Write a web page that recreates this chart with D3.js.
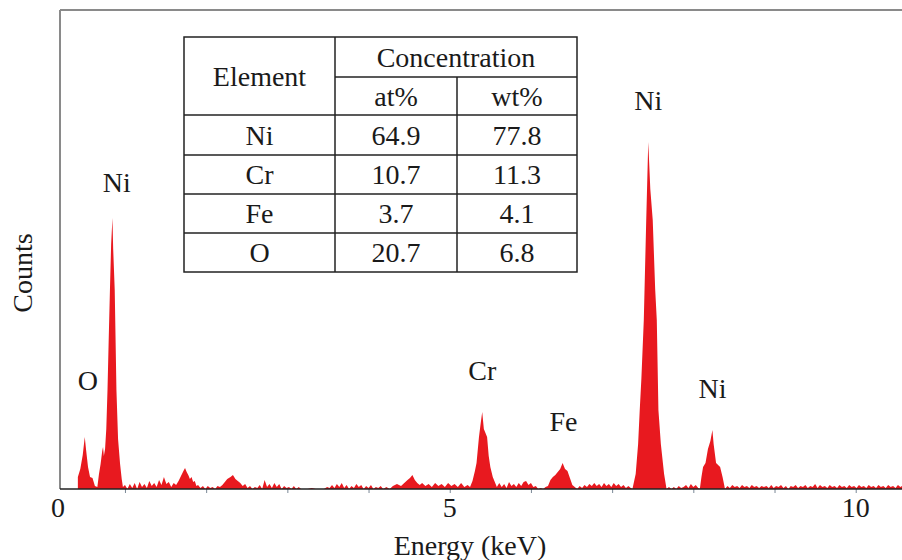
<!DOCTYPE html>
<html>
<head>
<meta charset="utf-8">
<script src="https://cdn.jsdelivr.net/npm/d3@7"></script>
<style>
  body { margin: 0; background: #fff; }
  svg text { font-family: "Liberation Serif", "DejaVu Serif", serif; fill: #1a1a1a; }
</style>
</head>
<body>
<div id="chart"></div>
<script>
// EDS spectrum, [energy keV, counts]
var spectrum = [
  [0.42,120],[0.45,200],[0.48,340],[0.505,520],[0.52,400],[0.545,220],[0.57,120],[0.60,110],[0.63,30],[0.66,20],
  [0.68,150],[0.70,250],[0.72,380],[0.73,420],[0.74,330],[0.755,400],[0.77,600],[0.785,990],[0.80,1500],[0.815,1990],
  [0.83,2450],[0.846,2710],[0.855,2400],[0.874,1990],[0.895,990],[0.915,500],[0.94,250],[0.96,100],[0.975,20],
  [1.00,40],[1.03,0],[1.06,50],[1.09,10],[1.12,60],[1.15,0],[1.18,70],[1.21,20],[1.24,50],[1.27,10],[1.30,80],
  [1.33,30],[1.36,60],[1.39,20],[1.42,90],[1.45,40],[1.48,120],[1.51,50],[1.54,70],[1.57,20],[1.60,60],[1.63,40],
  [1.66,80],[1.69,130],[1.72,180],[1.74,210],[1.76,170],[1.78,140],[1.80,100],[1.82,120],[1.84,70],[1.86,80],[1.88,30],
  [1.90,40],[1.93,10],[1.96,30],[1.99,0],[2.02,30],[2.05,10],[2.08,20],[2.11,0],[2.14,30],[2.17,20],
  [2.20,40],[2.23,70],[2.26,100],[2.30,120],[2.33,140],[2.36,100],[2.39,80],[2.42,60],[2.45,30],
  [2.48,50],[2.51,10],[2.54,30],[2.57,0],[2.60,20],[2.63,10],[2.66,40],[2.69,0],[2.72,90],[2.75,20],[2.78,50],
  [2.81,10],[2.84,60],[2.87,20],[2.90,50],[2.93,0],[2.96,30],[2.99,10],[3.02,20],[3.05,0],[3.08,30],[3.11,0],
  [3.14,20],[3.17,0],[3.25,0],[3.30,10],[3.35,0],[3.45,0],[3.49,20],
  [3.52,10],[3.55,40],[3.58,10],[3.61,50],[3.64,20],[3.67,60],[3.70,10],[3.73,40],[3.76,0],[3.79,30],[3.82,10],
  [3.85,50],[3.88,20],[3.91,40],[3.94,0],[3.97,30],[4.00,10],[4.03,40],[4.06,0],[4.09,20],[4.12,10],[4.15,30],
  [4.18,0],[4.22,20],[4.26,0],[4.30,30],[4.35,50],[4.40,30],[4.44,60],[4.48,90],[4.51,110],[4.54,140],[4.57,90],
  [4.60,60],[4.63,40],[4.66,60],[4.70,30],[4.74,50],[4.78,20],[4.82,60],[4.86,30],[4.90,50],[4.94,20],[4.98,60],
  [5.02,30],[5.06,50],[5.10,20],[5.14,60],[5.18,20],[5.22,40],
  [5.25,20],[5.28,80],[5.31,180],[5.33,260],[5.36,520],[5.38,650],[5.40,770],[5.42,600],[5.44,560],[5.46,520],
  [5.48,330],[5.50,220],[5.53,120],[5.56,60],[5.58,20],
  [5.61,60],[5.64,20],[5.67,50],[5.70,10],[5.73,70],[5.76,30],[5.79,50],[5.82,20],[5.85,60],[5.88,30],[5.91,70],
  [5.94,80],[5.97,40],[6.00,60],[6.03,20],[6.06,30],[6.09,0],[6.12,10],[6.15,0],[6.18,20],
  [6.21,30],[6.24,90],[6.27,120],[6.30,140],[6.33,170],[6.36,200],[6.39,260],[6.42,200],[6.45,180],[6.48,110],[6.51,40],
  [6.54,20],[6.57,0],[6.60,30],[6.63,10],[6.66,40],[6.69,20],[6.72,50],[6.75,30],[6.78,60],[6.81,30],[6.84,50],
  [6.87,20],[6.90,60],[6.93,30],[6.96,50],[6.99,20],[7.02,60],[7.05,30],[7.08,50],[7.11,20],[7.14,40],[7.17,10],
  [7.20,30],[7.23,10],
  [7.25,0],[7.29,150],[7.32,450],[7.34,790],[7.36,1100],[7.39,1690],[7.42,2690],[7.445,3470],[7.47,3000],[7.50,2690],
  [7.53,2000],[7.55,1690],[7.57,790],[7.60,450],[7.64,150],[7.67,0],
  [7.70,20],[7.73,0],[7.76,20],[7.79,0],[7.82,30],[7.85,10],[7.88,20],[7.91,40],[7.94,10],[7.97,50],[8.00,20],
  [8.03,40],[8.06,10],
  [8.08,0],[8.10,120],[8.12,220],[8.15,260],[8.18,400],[8.21,480],[8.235,590],[8.25,450],[8.28,260],[8.33,220],
  [8.36,120],[8.39,0],
  [8.42,30],[8.45,10],[8.48,40],[8.51,20],[8.54,30],[8.57,10],[8.60,40],[8.63,20],[8.66,30],[8.69,10],[8.72,40],
  [8.75,20],[8.78,30],[8.81,10],[8.84,30],[8.87,20],[8.90,30],[8.93,10],[8.96,40],[8.99,10],[9.02,30],[9.05,20],
  [9.08,40],[9.11,10],[9.14,30],[9.17,0],[9.20,30],[9.23,20],[9.26,40],[9.29,10],[9.32,30],[9.35,20],[9.38,40],
  [9.41,10],[9.44,30],[9.47,20],[9.50,50],[9.53,10],[9.56,40],[9.59,20],[9.62,30],[9.65,10],[9.68,40],[9.71,20],
  [9.74,30],[9.77,10],[9.80,40],[9.83,20],[9.86,30],[9.89,10],[9.92,40],[9.95,20],[9.98,30],[10.01,10],[10.04,40],
  [10.07,20],[10.10,30],[10.13,10],[10.16,40],[10.19,20],[10.22,30],[10.25,10],[10.28,40],[10.31,20],[10.34,30],
  [10.37,10],[10.40,40],[10.43,20],[10.46,30],[10.49,10],[10.52,40],[10.55,20],[10.57,30]
];

var tickLabels = [0, 5, 10];
var minorTicks = [1, 2, 3, 4, 5, 6, 7, 8, 9, 10];

var peakNames = ["O", "Ni", "Cr", "Fe", "Ni", "Ni"];
var peakEnergies = [0.52, 0.85, 5.40, 6.40, 7.445, 8.235];

var tableElements = ["Ni", "Cr", "Fe", "O"];
var atPercent = ["64.9", "10.7", "3.7", "20.7"];
var wtPercent = ["77.8", "11.3", "4.1", "6.8"];

var width = 902, height = 560;
var plotLeft = 60, plotTop = 10, plotBottom = 489;
var serif = "Liberation Serif, DejaVu Serif, serif";

var svg = d3.select("#chart").append("svg")
  .attr("width", width)
  .attr("height", height);

var x = d3.scaleLinear().domain([0.2, 10.57]).range([plotLeft, width]);
var y = d3.scaleLinear().domain([0, 4790]).range([plotBottom, plotTop]);

// spectrum
var area = d3.area()
  .x(function(d){ return x(d[0]); })
  .y0(y(0))
  .y1(function(d){ return y(d[1]); });

svg.append("path")
  .datum(spectrum)
  .attr("d", area)
  .attr("fill", "#e8191f");

// frame
svg.append("line")
  .attr("x1", plotLeft).attr("x2", width)
  .attr("y1", plotTop).attr("y2", plotTop)
  .attr("stroke", "#8a8a8a")
  .attr("stroke-width", 2);

svg.append("line")
  .attr("x1", plotLeft).attr("x2", plotLeft)
  .attr("y1", plotTop).attr("y2", plotBottom)
  .attr("stroke", "#8a8a8a")
  .attr("stroke-width", 2);

// small ticks under the baseline
var minor = svg.append("g")
  .attr("transform", "translate(0," + plotBottom + ")")
  .call(d3.axisBottom(x).tickValues(minorTicks).tickSize(4).tickFormat(""));
minor.select(".domain").remove();
minor.selectAll("line").attr("stroke", "#7a8896");

svg.append("line")
  .attr("x1", plotLeft).attr("x2", width)
  .attr("y1", plotBottom).attr("y2", plotBottom)
  .attr("stroke", "#222")
  .attr("stroke-width", 1.5);

var xAxis = svg.append("g")
  .attr("transform", "translate(0," + plotBottom + ")")
  .call(d3.axisBottom(x).tickValues(tickLabels).tickSize(0).tickPadding(8));
xAxis.select(".domain").remove();
xAxis.selectAll(".tick")
  .attr("transform", function(d){ return "translate(" + Math.max(x(d), 58) + ",0)"; });
xAxis.selectAll("text")
  .attr("font-family", serif)
  .style("font-size", "28px")
  .attr("fill", "#1a1a1a")
  .attr("dy", "0.72em");

svg.append("text")
  .attr("x", 470)
  .attr("y", 555)
  .attr("text-anchor", "middle")
  .attr("font-family", serif)
  .style("font-size", "28px")
  .text("Energy (keV)");

svg.append("text")
  .attr("transform", "translate(32,273) rotate(-90)")
  .attr("text-anchor", "middle")
  .attr("font-family", serif)
  .style("font-size", "28px")
  .text("Counts");

// peak labels
function peakTop(e){
  return d3.max(spectrum, function(d){ return Math.abs(d[0] - e) < 0.04 ? d[1] : 0; });
}

svg.selectAll(".peak")
  .data(peakNames)
  .enter()
  .append("text")
  .attr("class", "peak")
  .attr("x", function(d, i){
    if(i === 0){
      return x(peakEnergies[i]) + 2;
    }
    else if(i === 1){
      return x(peakEnergies[i]) + 4;
    }
    return x(peakEnergies[i]);
  })
  .attr("y", function(d, i){
    if(i === 0){
      return y(peakTop(peakEnergies[i])) - 47;
    }
    else if(i === 1){
      return y(peakTop(peakEnergies[i])) - 26;
    }
    return y(peakTop(peakEnergies[i])) - 32;
  })
  .attr("text-anchor", "middle")
  .attr("font-family", serif)
  .style("font-size", "28px")
  .text(function(d){ return d; });

// concentration table
var colX = [184, 335, 457, 577];
var rowY = [37, 77, 115, 155, 194, 233, 272];

var table = svg.append("g");

table.append("rect")
  .attr("x", colX[0]).attr("y", rowY[0])
  .attr("width", colX[3] - colX[0])
  .attr("height", rowY[6] - rowY[0])
  .attr("fill", "#fff")
  .attr("stroke", "#222")
  .attr("stroke-width", 1.5);

table.append("line")
  .attr("x1", colX[1]).attr("x2", colX[1])
  .attr("y1", rowY[0]).attr("y2", rowY[6])
  .attr("stroke", "#222").attr("stroke-width", 1.5);

table.append("line")
  .attr("x1", colX[2]).attr("x2", colX[2])
  .attr("y1", rowY[1]).attr("y2", rowY[6])
  .attr("stroke", "#222").attr("stroke-width", 1.5);

table.append("line")
  .attr("x1", colX[1]).attr("x2", colX[3])
  .attr("y1", rowY[1]).attr("y2", rowY[1])
  .attr("stroke", "#222").attr("stroke-width", 1.5);

table.selectAll(".hline")
  .data(rowY.slice(2, 6))
  .enter()
  .append("line")
  .attr("class", "hline")
  .attr("x1", colX[0]).attr("x2", colX[3])
  .attr("y1", function(d){ return d; })
  .attr("y2", function(d){ return d; })
  .attr("stroke", "#222").attr("stroke-width", 1.5);

function cell(txt, cx, cy){
  table.append("text")
    .attr("x", cx)
    .attr("y", cy)
    .attr("dy", "0.35em")
    .attr("text-anchor", "middle")
    .attr("font-family", serif)
    .style("font-size", "28px")
    .text(txt);
}

cell("Element", (colX[0] + colX[1]) / 2, (rowY[0] + rowY[2]) / 2);
cell("Concentration", (colX[1] + colX[3]) / 2, (rowY[0] + rowY[1]) / 2);
cell("at%", (colX[1] + colX[2]) / 2, (rowY[1] + rowY[2]) / 2);
cell("wt%", (colX[2] + colX[3]) / 2, (rowY[1] + rowY[2]) / 2);

tableElements.forEach(function(el, i){
  var cy = (rowY[i + 2] + rowY[i + 3]) / 2;
  cell(el, (colX[0] + colX[1]) / 2, cy);
  cell(atPercent[i], (colX[1] + colX[2]) / 2, cy);
  cell(wtPercent[i], (colX[2] + colX[3]) / 2, cy);
});
</script>
</body>
</html>
